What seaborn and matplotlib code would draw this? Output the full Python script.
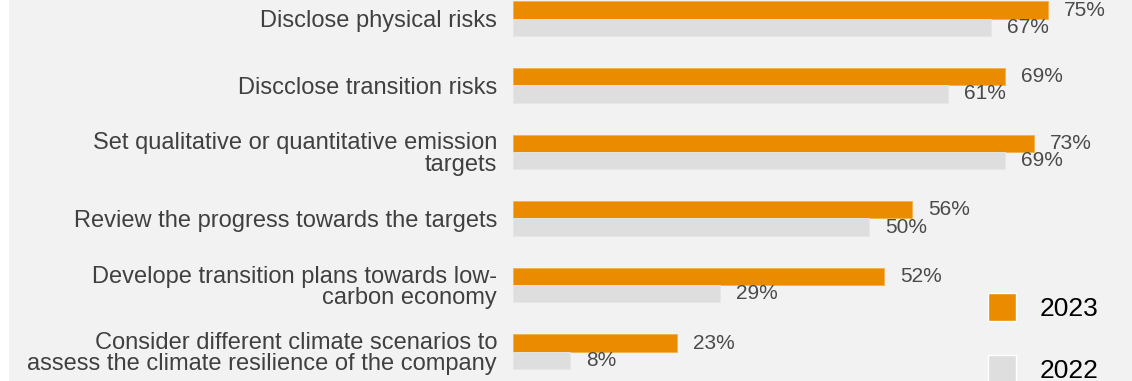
import matplotlib
matplotlib.use("Agg")
import matplotlib.pyplot as plt
from matplotlib.patches import Rectangle
import seaborn as sns
import pandas as pd

categories = [
    "Disclose physical risks",
    "Discclose transition risks",
    "Set qualitative or quantitative emission\ntargets",
    "Review the progress towards the targets",
    "Develope transition plans towards low-\ncarbon economy",
    "Consider different climate scenarios to\nassess the climate resilience of the company",
]
years = ["2023", "2022"]
values_2023 = [75, 69, 73, 56, 52, 23]
values_2022 = [67, 61, 69, 50, 29, 8]
colors = {"2023": "#EB8C00", "2022": "#DEDEDE"}

df = pd.DataFrame({
    "category": categories * 2,
    "year": ["2023"] * len(categories) + ["2022"] * len(categories),
    "value": values_2023 + values_2022,
})

sns.set_theme(style="white")
plt.rcParams["font.family"] = ["Liberation Sans", "DejaVu Sans"]

W, H = 1132, 381
fig = plt.figure(figsize=(W / 100, H / 100), dpi=100, facecolor="white")
fig.patches.append(Rectangle((9 / W, 0), 1 - 9 / W, 1, transform=fig.transFigure,
                             facecolor="#F2F2F2", edgecolor="none", zorder=-10))
x0 = 512.7
ax = fig.add_axes([x0 / W, 0, 1 - x0 / W, 1])
ax.set_facecolor("#F2F2F2")

sns.barplot(data=df, y="category", x="value", hue="year", hue_order=years,
            order=categories, palette=colors, orient="h", width=0.52,
            saturation=1, ax=ax, legend=True)

for cont, ec in zip(ax.containers, ["#F5B04A", "#E6E6E6"]):
    for p in cont:
        p.set_edgecolor(ec)
        p.set_linewidth(0.6)
    ax.bar_label(cont, labels=[f"{int(round(v.get_width()))}%" for v in cont],
                 padding=11.5, fontsize=15, color="#4A4A4A")

px_per = 7.135
ax.set_xlim(0, (W - x0) / px_per)
row0, pitch = 18.7, 66.6
ax.set_ylim((H - row0) / pitch, -row0 / pitch)

ax.set_xlabel("")
ax.set_ylabel("")
ax.set_xticks([])
ax.tick_params(axis="y", length=0, pad=11.3, labelsize=17, labelcolor="#404040")
for t in ax.get_yticklabels():
    t.set_linespacing(0.95)
for s in ax.spines.values():
    s.set_visible(False)

handles, labels = ax.get_legend_handles_labels()
leg = ax.legend(handles, labels, loc="upper left",
                bbox_to_anchor=(988 / W, 1 - 293 / H), bbox_transform=fig.transFigure,
                frameon=False, fontsize=19, handlelength=1.05, handleheight=1.25,
                handletextpad=0.92, labelspacing=1.3, borderpad=0, borderaxespad=0)
for t in leg.get_texts():
    t.set_color("black")

fig.savefig("out.png", dpi=100, facecolor="white")
